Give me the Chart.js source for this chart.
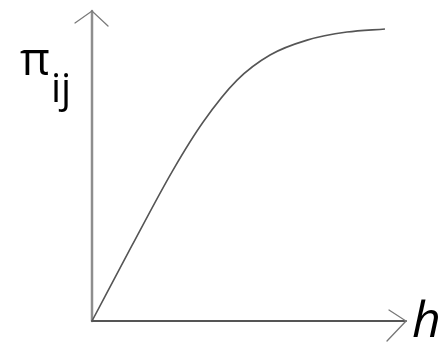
<!DOCTYPE html>
<html>
<head>
<meta charset="utf-8">
<script src="https://cdn.jsdelivr.net/npm/chart.js@4"></script>
<style>
	html, body { margin: 0; padding: 0; background: #fff; }
	canvas { display: block; }
</style>
</head>
<body>
<canvas id="graphPi" width="443" height="342"></canvas>
<script>
// Courbe pi_ij en fonction de h
var hValues = [0, 12.7, 25.8, 35.4, 46.2, 56.7, 68.5, 81.2, 93.3]
var piValues = [0, 24.3, 48.7, 64.2, 77.7, 85.8, 90.6, 93.2, 94.2]
var xLabel = 'h'
var yLabel = 'π'
var ySub = 'ij'

var points = []
hValues.forEach(function (value, i){
	points.push({x: value, y: piValues[i]})
})

// Axes avec fleches + noms des axes
var axesArrows = {
	id: 'axesArrows',
	beforeDatasetsDraw: function (chart) {
		var ctx = chart.ctx
		var xs = chart.scales.x
		var ys = chart.scales.y
		var x0 = xs.getPixelForValue(0)
		var y0 = ys.getPixelForValue(0)
		var xEnd = xs.getPixelForValue(100)
		var yEnd = ys.getPixelForValue(100)
		ctx.save()
		ctx.lineCap = 'round'

		// axe vertical
		ctx.strokeStyle = '#8e8e8e'
		ctx.lineWidth = 2.5
		ctx.beginPath()
		ctx.moveTo(x0, y0)
		ctx.lineTo(x0, yEnd)
		ctx.stroke()
		ctx.lineWidth = 1.3
		ctx.strokeStyle = '#7a7a7a'
		ctx.beginPath()
		ctx.moveTo(x0 - 17, yEnd + 12)
		ctx.lineTo(x0, yEnd)
		ctx.lineTo(x0 + 16, yEnd + 15)
		ctx.stroke()

		// axe horizontal
		ctx.strokeStyle = '#555'
		ctx.lineWidth = 2
		ctx.beginPath()
		ctx.moveTo(x0, y0)
		ctx.lineTo(xEnd, y0)
		ctx.stroke()
		ctx.lineWidth = 1.3
		ctx.strokeStyle = '#777'
		ctx.beginPath()
		ctx.moveTo(xEnd - 17, y0 - 11)
		ctx.lineTo(xEnd, y0)
		ctx.lineTo(xEnd - 19, y0 + 20)
		ctx.stroke()

		// textes
		ctx.fillStyle = '#000'
		ctx.textAlign = 'left'
		ctx.textBaseline = 'alphabetic'
		ctx.font = '46px "Open Sans"'
		ctx.fillText(yLabel, 20, 75)
		ctx.font = '40px "Open Sans"'
		ctx.fillText(ySub, 51, 102)
		ctx.font = 'italic 50px "Open Sans"'
		ctx.fillText(xLabel, 412, 337)
		ctx.restore()
	}
}

var ctx = document.getElementById('graphPi').getContext('2d');
var myChart = new Chart(ctx, {
	type: 'line',
	data: {
		datasets: [{
			label: 'pi_ij',
			data: points,
			borderColor: '#555',
			borderWidth: 1.6,
			pointRadius: 0,
			fill: false,
			cubicInterpolationMode: 'monotone',
			clip: false
		}]
	},
	options: {
		responsive: false,
		animation: false,
		layout: {
			padding: { left: 92, right: 37, top: 11, bottom: 21 }
		},
		plugins: {
			legend: { display: false },
			tooltip: { enabled: false }
		},
		scales: {
			x: { type: 'linear', min: 0, max: 100, display: false },
			y: { type: 'linear', min: 0, max: 100, display: false }
		}
	},
	plugins: [axesArrows]
})
</script>
</body>
</html>
